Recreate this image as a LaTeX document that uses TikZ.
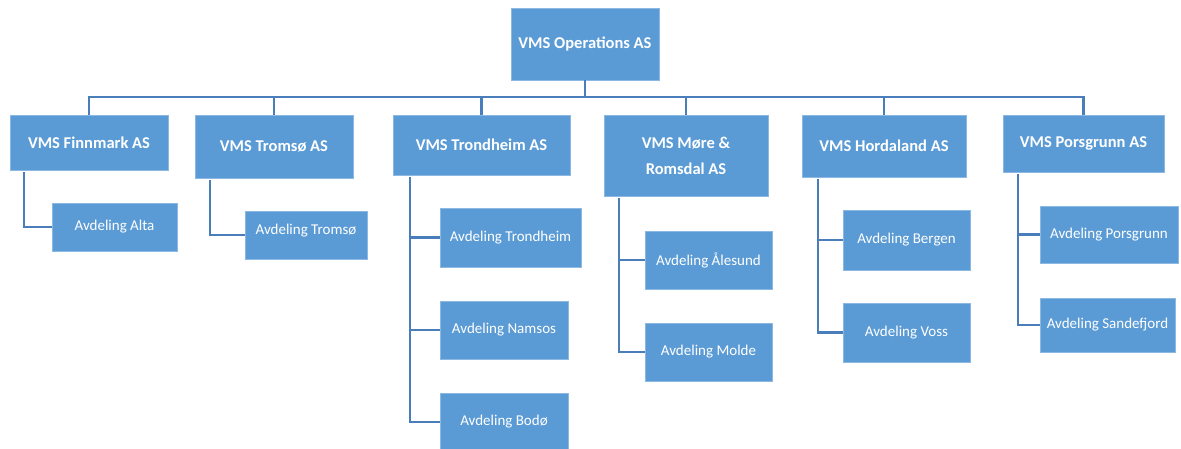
\documentclass[tikz,border=0pt]{standalone}
\usepackage{fontspec}
\setmainfont{Carlito}
\definecolor{boxblue}{RGB}{91,155,213}
\definecolor{boxedge}{RGB}{140,185,228}
\definecolor{linblue}{RGB}{74,126,187}
\begin{document}
\begin{tikzpicture}[x=1pt,y=-1pt,
  box/.style={fill=boxblue,draw=boxedge,line width=0.8pt,text=white,inner sep=0pt,align=center},
  hd/.style={box,font=\fontsize{16.5}{26}\selectfont\bfseries},
  sub/.style={box,font=\fontsize{15}{18}\selectfont},
  conn/.style={draw=linblue,line width=2.2pt}]
\useasboundingbox (0,0) rectangle (1181,448);
% level 1
\node[hd,minimum width=148pt,minimum height=72pt] (top) at (585,44) {VMS Operations AS};
% level 2
\node[hd,minimum width=158pt,minimum height=55pt] (fin) at (89,142.5) {VMS Finnmark AS};
\node[hd,minimum width=158pt,minimum height=63pt] (tro) at (274,146.5) {VMS Tromsø AS};
\node[hd,minimum width=177pt,minimum height=60pt] (trd) at (481.5,145) {VMS Trondheim AS};
\node[hd,minimum width=164pt,minimum height=81pt] (mor) at (686,155.5) {VMS Møre \&\\Romsdal AS};
\node[hd,minimum width=164pt,minimum height=62pt] (hor) at (884,146) {VMS Hordaland AS};
\node[hd,minimum width=161pt,minimum height=57pt] (por) at (1083.5,143.5) {VMS Porsgrunn AS};
% level 3
\node[sub,minimum width=125pt,minimum height=48pt] (alta) at (114.5,227) {Avdeling Alta};
\node[sub,minimum width=122pt,minimum height=48pt] (atro) at (306,235) {\raisebox{11pt}{Avdeling Tromsø}};
\node[sub,minimum width=141pt,minimum height=59pt] (atrd) at (510.5,237.5) {Avdeling Trondheim};
\node[sub,minimum width=128pt,minimum height=58pt] (anam) at (504,330) {Avdeling Namsos};
\node[sub,minimum width=128pt,minimum height=58pt] (abod) at (504,422) {Avdeling Bodø};
\node[sub,minimum width=127pt,minimum height=58pt] (aale) at (708.5,260) {Avdeling Ålesund};
\node[sub,minimum width=127pt,minimum height=58pt] (amol) at (708.5,352) {Avdeling Molde};
\node[sub,minimum width=127pt,minimum height=60pt] (aber) at (906.5,240) {Avdeling Bergen};
\node[sub,minimum width=127pt,minimum height=59pt] (avos) at (906.5,332.5) {Avdeling Voss};
\node[sub,minimum width=138pt,minimum height=57pt] (apor) at (1109,234.5) {Avdeling Porsgrunn};
\node[sub,minimum width=135pt,minimum height=54pt] (asan) at (1107.5,325) {Avdeling Sandefjord};
% bus
\coordinate (bus) at (585,97);
\draw[conn] (top.south) -- (bus);
\foreach \n in {fin,tro,trd,mor,hor,por} {
  \draw[conn] (bus) -| (\n.north);
}
% children connectors
\draw[conn] ([xshift=14pt,yshift=-2pt]fin.south west) |- (alta.west);
\draw[conn] ([xshift=15pt,yshift=-2pt]tro.south west) |- (atro.west);
\draw[conn] ([xshift=17pt,yshift=-2pt]trd.south west) |- (abod.west);
\draw[conn] ([xshift=17pt,yshift=-2pt]trd.south west) |- (atrd.west);
\draw[conn] ([xshift=17pt,yshift=-2pt]trd.south west) |- (anam.west);
\draw[conn] ([xshift=15pt,yshift=-2pt]mor.south west) |- (amol.west);
\draw[conn] ([xshift=15pt,yshift=-2pt]mor.south west) |- (aale.west);
\draw[conn] ([xshift=16pt,yshift=-2pt]hor.south west) |- (avos.west);
\draw[conn] ([xshift=16pt,yshift=-2pt]hor.south west) |- (aber.west);
\draw[conn] ([xshift=15pt,yshift=-2pt]por.south west) |- (asan.west);
\draw[conn] ([xshift=15pt,yshift=-2pt]por.south west) |- (apor.west);
\end{tikzpicture}
\end{document}
